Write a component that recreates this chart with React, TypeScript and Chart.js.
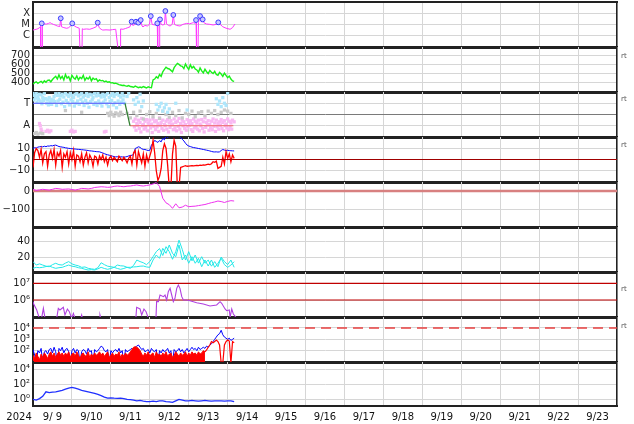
import React, { useEffect, useRef } from 'react';
import { Chart, registerables } from 'chart.js';

Chart.register(...registerables);
Chart.defaults.font.family = "'DejaVu Sans', sans-serif";
Chart.defaults.font.size = 10;
Chart.defaults.color = '#222';

// ---------------- time axis: hours since 2024-09-09 00:00 ----------------
const X_MIN = 0;
const X_MAX = 360;
const dayGridHours = [0, 24, 48, 72, 96, 120, 144, 168, 192, 216, 240, 264, 288, 312, 336, 360];
const dayLabelHours = [12, 36, 60, 84, 108, 132, 156, 180, 204, 228, 252, 276, 300, 324, 348];
const dayLabels = ['9/ 9', '9/10', '9/11', '9/12', '9/13', '9/14', '9/15', '9/16', '9/17', '9/18', '9/19', '9/20', '9/21', '9/22', '9/23'];
const yearLabel = '2024';
const yearLabelHour = -8.6;

// ---------------- panel 1: X-ray flux (log10 W/m2) ----------------
const xrayT = [0, 1, 2, 3, 4, 4.6, 4.8, 5.6, 5.8, 7, 8.4, 9.5, 10.5, 11.5, 12.5, 13.6, 15, 16.5, 17.1, 17.6, 19, 20.8, 22, 23.5, 24.2, 25.5, 27, 28.5, 29, 30.2, 30.4, 31, 33, 35, 37, 39, 39.9, 40.8, 42, 43, 45, 47.5, 49, 51, 52.6, 53.8, 54, 55.5, 57, 58.5, 59.8, 60.8, 61.5, 62.5, 63.5, 64.2, 64.9, 65.6, 66.4, 67.2, 67.8, 69, 70.5, 71.8, 72.6, 73.4, 75, 76.2, 76.6, 76.9, 77.8, 78.1, 78.3, 79, 80, 81.1, 81.6, 82.3, 83.5, 84.5, 85.8, 86.5, 87.2, 88.5, 90.6, 92.5, 94.8, 96.5, 98.8, 100, 100.5, 100.8, 101.7, 102, 103, 103.8, 104.6, 105.3, 107, 109, 111, 113, 114.2, 115, 117, 119, 121.5, 123, 124.5];
const xrayV = [-5.52, -5.48, -5.45, -5.40, -5.30, -5.2, -7.5, -7.5, -4.91, -4.97, -4.97, -4.92, -4.85, -4.93, -5.0, -5.06, -5.15, -5.2, -4.45, -5.22, -5.3, -5.36, -5.3, -5.1, -4.91, -5.15, -5.27, -5.35, -7.5, -7.5, -5.4, -5.45, -5.42, -5.45, -5.35, -5.22, -4.85, -5.3, -5.45, -5.52, -5.5, -5.52, -5.48, -5.45, -7.5, -7.5, -5.42, -5.45, -5.38, -5.3, -5.22, -4.76, -5.1, -5.05, -4.76, -5.0, -4.85, -5.0, -4.61, -5.15, -5.22, -5.1, -5.15, -5.0, -4.25, -5.0, -5.06, -5.0, -4.91, -7.5, -7.5, -5.0, -4.55, -5.0, -5.06, -5.0, -3.79, -4.95, -5.1, -5.15, -5.0, -4.15, -5.0, -5.1, -5.15, -5.0, -4.91, -4.95, -4.85, -4.9, -4.61, -7.5, -7.5, -4.85, -4.25, -4.8, -4.55, -4.85, -4.97, -5.0, -5.06, -5.0, -4.82, -4.95, -5.22, -5.35, -5.45, -5.3, -4.97];
const flareT = [5.4, 17.1, 24.2, 39.9, 60.8, 63.5, 64.9, 66.4, 72.6, 76.6, 78.3, 81.6, 86.5, 100.5, 103, 104.6, 114.2];
const flareV = [-4.91, -4.45, -4.91, -4.85, -4.76, -4.76, -4.85, -4.61, -4.25, -4.91, -4.55, -3.79, -4.15, -4.61, -4.25, -4.55, -4.82];
const xrayTicks = [-6, -5, -4];
const xrayTickLabels = ['C', 'M', 'X'];

// ---------------- panel 2: solar wind speed (km/s), hourly ----------------
const speed = [
  385, 400, 410, 392, 405, 415, 398, 420, 405, 425,
  430, 410, 435, 455, 470, 440, 485, 445, 470, 430,
  490, 450, 465, 420, 480, 455, 440, 475, 430, 460,
  445, 480, 425, 455, 440, 465, 420, 450, 435, 445,
  415, 430, 420, 425, 410, 418, 405, 410, 398, 400,
  392, 395, 388, 378, 375, 370, 372, 365, 362, 368,
  358, 355, 350, 362, 355, 345, 352, 346, 358, 350,
  342, 355, 348, 345, 430, 440, 465, 450, 490, 470,
  520, 545, 570, 555, 550, 535, 520, 565, 590, 612,
  600, 585, 580, 555, 605, 570, 545, 595, 560, 578,
  550, 540, 515, 562, 530, 508, 548, 520, 500, 535,
  515, 500, 525, 490, 480, 512, 495, 470, 505, 480,
  455, 472, 440, 420, 415,
];
const speedTicks = [400, 500, 600, 700];

// ---------------- panel 3: IMF sector (T = +1 / A = -1) ----------------
const awayT = [0, 56.7];
const awayV = [1, 1];
const transT = [56.7, 59.8];
const transV = [1, -1];
const towardT = [59.8, 123.5];
const towardV = [-1, -1];
const lbUp = [1.85, 1.7, 1.9, 1.6, 1.8, 1.75, 1.5, 1.85, 1.4, 1.3, 1.5, 1.35, 1.2, 1.6, 1.85, 1.7, 1.9, 1.65, 1.8, 1.55, 1.9, 1.75, 1.6, 1.85, 1.7, 1.5, 1.8, 1.9, 1.65, 1.75, 1.85, 1.55, 1.7, 1.9, 1.6, 1.8, 1.75, 1.5, 1.85, 1.65, 1.9, 1.7, 1.55, 1.8, 1.6, 1.75, 1.9, 1.5, 1.7, 1.85, 1.6, 1.8, 1.9, 1.7, 1.55, 1.85, 1.65];
const lbLow = [1.3, 1.45, 1.1, 1.35, 1.2, 0.95, 1.25, 1.4, 1.0, 0.85, 1.1, 0.9, 1.3, 1.15, 0.8, 1.2, 1.35, 0.95, 1.1, 0.7, 1.25, 1.05, 0.85, 1.3, 1.15, 0.75, 1.0, 1.2, 0.9, 1.35, 1.1, 0.8, 1.25, 1.0, 0.65, 1.15, 1.3, 0.9, 1.05, 0.8, 1.2, 1.0, 0.75, 1.1, 1.3, 0.95, 0.7, 1.15, 1.25, 0.85, 1.05, 0.6, 1.2, 0.9, 1.1, 1.3, 1.0];
const lbSparseT = [58, 59, 62, 63, 64, 65, 66, 67, 68, 76, 77, 78, 79, 80, 81, 82, 83, 84, 88, 95, 113, 114, 115, 116, 117, 118, 119, 120];
const lbSparseV = [1.6, 1.9, 1.3, 0.9, 1.5, 1.1, 1.8, 0.7, 1.2, 0.9, 0.4, 0.7, 1.0, 0.3, 0.6, 0.9, 0.2, 0.5, 1.0, 0.4, 1.4, 0.9, 1.2, 0.7, 1.5, 1.0, 0.8, 1.9];
const grayT = [1, 2, 3, 4.5, 6, 20, 30, 46, 47, 48, 49, 50, 51, 52, 53, 54, 55, 58, 60, 62, 64, 66, 68, 70, 72, 74, 76, 78, 80, 82, 84, 86, 88, 90, 92, 94, 96, 98, 100, 102, 104, 106, 108, 110, 112, 114, 116, 118, 120, 122];
const grayV = [-1.7, -1.6, -1.75, -1.65, -1.7, 0.35, 0.2, 0.1, -0.1, 0.2, 0.0, -0.15, 0.15, 0.05, -0.1, 0.2, 0.0, 0.1, -0.3, 0.2, -0.1, 0.3, -0.4, 0.0, 0.25, -0.2, 0.1, -0.35, 0.3, 0.0, -0.25, 0.2, -0.1, 0.35, -0.3, 0.1, 0.0, 0.3, -0.2, 0.15, 0.25, -0.1, 0.3, 0.1, 0.35, 0.0, 0.2, 0.4, 0.3, 0.1];
const pinkEarlyT = [4, 4.5, 5, 5.5, 8, 9, 10, 11, 23, 24, 25, 26, 44, 45];
const pinkEarlyV = [-0.8, -1.0, -1.3, -1.5, -1.5, -1.4, -1.55, -1.45, -1.5, -1.4, -1.55, -1.5, -1.55, -1.5];
const pinkUp = [-0.6, -0.4, -0.8, -0.5, -0.7, -0.35, -0.9, -0.6, -0.45, -0.75, -0.5, -0.85, -0.4, -0.65, -0.55, -0.8, -0.3, -0.7, -0.5, -0.9, -0.6, -0.45, -0.75, -0.55, -0.85, -0.4, -0.7, -0.6, -0.35, -0.8, -0.5, -0.65, -0.9, -0.45, -0.7, -0.55, -0.8, -0.4, -0.6, -0.75, -0.5, -0.85, -0.45, -0.65, -0.3, -0.7, -0.55, -0.9, -0.6, -0.4, -0.75, -0.5, -0.8, -0.65, -0.45, -0.7, -0.55, -0.85, -0.4, -0.6, -0.75, -0.5, -0.65];
const pinkLow = [-1.1, -1.4, -0.95, -1.25, -1.55, -1.0, -1.3, -1.15, -1.45, -0.9, -1.2, -1.6, -1.05, -1.35, -1.1, -1.5, -0.95, -1.25, -1.4, -1.0, -1.3, -1.55, -1.15, -0.9, -1.35, -1.2, -1.45, -1.05, -1.3, -1.6, -1.0, -1.25, -1.4, -1.1, -0.95, -1.35, -1.5, -1.2, -1.05, -1.3, -1.45, -1.0, -1.25, -1.55, -1.15, -0.9, -1.4, -1.2, -1.35, -1.05, -1.5, -1.1, -1.3, -0.95, -1.25, -1.45, -1.0, -1.2, -1.35, -1.1, -1.3];
const sectorTicks = [-1, 0, 1];
const sectorTickLabels = ['A', '', 'T'];

// ---------------- panel 4: IMF Bt (blue) / Bz (red), nT, hourly ----------------
const bt = [
  9.8, 10.5, 10.2, 11, 11.3, 11.5, 11.2, 11.8, 11.4, 12.0,
  11.9, 12.3, 12.1, 12.6, 12.8, 12.2, 11.5, 11.3, 11.0, 10.8,
  10.4, 10.2, 9.9, 9.8, 9.6, 9.4, 9.3, 9.1, 9.0, 8.9,
  8.7, 8.6, 8.4, 8.2, 8.0, 7.7, 7.6, 7.4, 7.2, 7.0,
  6.9, 6.8, 6.3, 5.8, 5.2, 4.6, 4.2, 3.8, 3.4, 3.0,
  2.6, 2.3, 2.5, 2.2, 2.4, 2.3, 2.1, 2.3, 2.6, 3.2,
  3.5, 3.8, 4.5, 9.8, 10.5, 11.3, 10.8, 9.5, 9.0, 8.9,
  8.4, 8.0, 8.2, 12.8, 14.5, 17.0, 16.0, 15.2, 16.8, 15.7,
  18.8, 17.5, 21, 19.5, 23, 23, 22, 23, 23, 23,
  22, 19.5, 18.0, 16.5, 14.5, 12.8, 12.0, 11.5, 11.0, 10.6,
  10.4, 10.1, 9.8, 9.5, 9.2, 8.9, 8.6, 8.3, 8.0, 7.6,
  7.2, 6.8, 6.7, 6.8, 6.6, 6.8, 8.0, 8.9, 8.4, 8.0,
  8.2, 7.9, 7.8, 7.7, 7.6,
];
const bz = [
  -7, 6, 9.8, 8, 2, 9, -3, 5, 7, -6,
  4, 8, 1, 9, -5, 6, 3, 8, -7, 5,
  2, 7, -4, 6, 0, 8, -6, 4, 3, -2,
  5, -5, 2, 6, -3, 4, 1, -6, 3, 2,
  -4, 3, 0, 4, -2, 2, -5, 1, 3, -1,
  2, 0, -2, 3, 1, -1, 2, 0, -3, 1,
  3, -4, 6, 8, -5, 7, 2, -3, 5, -6,
  4, -2, 3, 8, 17, 6, -10, -18.5, -15, -8,
  8, 14, 10, -5, -25, -25, 5, 17, 12, -25,
  -25, -7, -6.5, -6, -5.5, -6, -5.8, -5.6, -5.5, -5.7,
  -5.4, -5.2, -5.5, -5, -5.2, -4.8, -5, -4.6, -4.2, -4.5,
  -3.8, -2, -2.5, -1.5, -8, -7, -6, 2, -4, 7,
  1, 5, -2, 4, 1,
];
const imfTicks = [-10, 0, 10];
const imfTickLabels = ['\u221210', '0', '10'];
const imfZero = 0;

// ---------------- panel 5: Dst (nT), 2-hourly ----------------
const dst = [9, 3, 6, 9, 7, 5, 9, 14, 12, 9, 10, 11, 8, 5, 9, 14, 13, 11, 14, 19, 21, 23, 22, 20, 21, 25, 27, 25, 23, 26, 27, 30, 33, 29, 27, 30, 33, 38, 46, 25, -40, -65, -75, -95, -70, -92, -88, -78, -86, -84, -83, -80, -77, -74, -69, -64, -60, -55, -58, -63, -57, -53, -55];
const dstTicks = [-100, 0];
const dstTickLabels = ['\u2212100', '0'];
const dstZero = 0;

// ---------------- panel 6: two cyan traces, 2-hourly ----------------
const cyanA = [14, 9.5, 11, 9.5, 8, 7.3, 10, 11.8, 10, 9.5, 12, 14, 11, 9.5, 8.5, 6.5, 7, 5.2, 4.5, 3.9, 6, 12.5, 10, 8, 7.3, 6.5, 9.5, 8.5, 8.2, 6.5, 5.2, 9, 16, 14, 12.5, 10, 14, 20.4, 27, 31, 22, 33.5, 27, 17, 27, 42, 30, 16, 27, 15, 22.6, 12, 20.4, 11.8, 16, 8, 14, 7.3, 20, 14, 10, 16, 6.5];
const cyanB = [5.2, 6.5, 6, 6.5, 7.5, 8.2, 6.5, 5.2, 6, 6.5, 8, 9.5, 8, 7.3, 6, 5.2, 4, 3.0, 3.5, 3.0, 4.5, 6.5, 5, 3.9, 5, 6.5, 5, 3.9, 5, 6.5, 6.5, 7, 7.3, 8, 8.2, 7, 6.5, 16.1, 22.6, 18.3, 31.3, 24.8, 35.7, 24.8, 20.4, 35.7, 16.1, 22.6, 11.8, 20.4, 11.8, 18.3, 7.3, 16.1, 8.2, 16.1, 6.5, 11.8, 18.3, 10, 6.5, 9.5, 13.9];
const cyanTicks = [20, 40];

// ---------------- panel 7: purple (log10) ----------------
const purpleT = [0, 0.2, 2.3, 3.9, 5.3, 6.4, 7.4, 14.6, 15.6, 16.6, 18.7, 19.7, 21.2, 22.4, 23.8, 24.9, 25.9, 29.5, 30, 30.5, 40.8, 41.3, 41.8, 63.4, 63.9, 66, 67, 68.4, 69.7, 71.1, 75.8, 76.2, 77.3, 78.3, 80.4, 81.4, 82.4, 83.4, 84.5, 85.5, 86.5, 87.5, 88.6, 89.6, 90.6, 91.7, 92.7, 94.7, 96.8, 100.9, 105, 109.1, 113.2, 115.3, 116.3, 118.4, 119.4, 121, 121.5, 122.5, 123.5, 125.6];
const purpleV = [5.9, 5.8, 5.4, 4.9, 4.9, 5.5, 4.9, 4.9, 5.5, 5.4, 5.56, 5.1, 5.46, 5.3, 4.9, 5.2, 4.9, 4.9, 5.1, 4.9, 4.9, 5.1, 4.9, 4.9, 5.56, 5.46, 5.1, 5.46, 5.3, 4.9, 4.9, 5.9, 5.9, 6.3, 6.2, 6.3, 6.0, 6.5, 6.7, 6.3, 5.9, 6.1, 6.7, 6.9, 6.7, 6.2, 6.0, 6.0, 5.96, 5.84, 5.76, 5.64, 5.7, 5.9, 5.8, 5.46, 5.36, 5.4, 4.95, 5.46, 5.16, 4.9];
const purpleTicks = [6, 7];
const purpleTickLabels = ['10\u2076', '10\u2077'];
const purpleLevels = [7, 6];

// ---------------- panel 8: protons (log10), hourly ----------------
const protonBlue = [
  2.1, 1.6, 0.9, 2.0, 1.8, 2.2, 0.9, 1.9, 2.0, 1.7,
  2.1, 2.2, 1.8, 2.3, 1.9, 0.9, 2.2, 2.0, 2.3, 1.8,
  2.1, 2.2, 1.9, 0.9, 2.0, 2.2, 1.8, 2.1, 2.0, 0.9,
  1.9, 2.1, 2.0, 1.7, 2.2, 1.9, 2.0, 0.9, 2.1, 1.9,
  2.0, 2.2, 2.4, 2.3, 2.0, 1.9, 2.1, 0.9, 2.0, 1.8,
  2.0, 2.1, 1.9, 2.2, 1.8, 2.0, 0.9, 2.1, 1.9, 2.0,
  2.1, 2.2, 2.0, 2.3, 2.4, 2.5, 2.3, 2.1, 2.2, 1.9,
  2.0, 2.1, 1.8, 2.2, 2.0, 1.9, 2.1, 0.9, 2.0, 1.8,
  2.1, 1.9, 2.0, 2.2, 1.8, 2.0, 0.9, 2.1, 1.9, 2.0,
  2.2, 1.9, 2.1, 1.8, 2.0, 2.2, 1.9, 2.1, 2.3, 2.1,
  2.2, 2.0, 2.3, 2.1, 2.2, 2.3, 2.2, 2.4, 2.3, 2.5,
  2.6, 2.8, 3.0, 3.2, 3.4, 3.5, 3.8, 3.4, 3.2, 3.1,
  3.0, 3.1, 2.9, 3.0, 3.1,
];
const protonRedDense = [
  1.6, 1.3, 1.8, 1.5, 1.2, 1.7, 1.4, 1.8, 1.6, 1.3,
  1.7, 1.9, 1.5, 1.8, 1.4, 1.7, 1.9, 1.6, 1.8, 1.5,
  1.8, 1.6, 1.9, 1.4, 1.7, 1.8, 1.5, 1.9, 1.6, 1.3,
  1.7, 1.8, 1.5, 1.6, 1.9, 1.4, 1.7, 1.5, 1.8, 1.6,
  1.7, 1.9, 1.6, 1.8, 1.5, 1.7, 1.9, 1.4, 1.6, 1.8,
  1.5, 1.7, 1.6, 1.9, 1.4, 1.7, 1.5, 1.8, 1.6, 1.7,
  1.9, 2.1, 2.3, 2.35, 2.3, 2.2, 2.0, 1.7, 1.5, 1.8,
  1.6, 1.9, 1.5, 1.7, 1.8, 1.4, 1.9, 1.6, 1.7, 1.5,
  1.8, 1.6, 1.9, 1.5, 1.7, 1.8, 1.4, 1.6, 1.9, 1.7,
  1.5, 1.8, 1.6, 1.7, 1.9, 1.5, 1.8, 1.6, 1.9, 1.7,
  1.8, 1.6, 1.9, 1.7, 1.8, 2.0, 1.9,
];
const protonRedLate = [1.9, 2.06, 2.3, 2.5, 2.8, 2.7, 2.8, 2.94, 2.8, 2.5, 0.9, 0.9, 2.5, 2.8, 2.94, 2.85, 0.9, 2.8, 2.7];
const protonTicks = [2, 3, 4];
const protonTickLabels = ['10\u00b2', '10\u00b3', '10\u2074'];
const protonAlert = 4;

// ---------------- panel 9: electrons (log10), 2-hourly ----------------
const electrons = [0.0, -0.1, 0.1, 0.4, 1.0, 0.9, 0.95, 1.0, 1.1, 1.2, 1.35, 1.5, 1.6, 1.48, 1.35, 1.2, 1.1, 1.0, 0.9, 0.78, 0.65, 0.5, 0.3, 0.15, 0.2, 0.15, 0.12, 0.15, 0.1, 0.0, -0.05, -0.1, -0.2, -0.15, -0.25, -0.3, -0.3, -0.25, -0.3, -0.2, -0.2, -0.3, -0.35, -0.4, -0.2, 0.0, -0.1, -0.2, -0.2, -0.15, -0.2, -0.25, -0.2, -0.15, -0.2, -0.25, -0.2, -0.22, -0.2, -0.25, -0.2, -0.2, -0.3];
const electronTicks = [0, 2, 4];
const electronTickLabels = ['10\u2070', '10\u00b2', '10\u2074'];

// right-side small notes
const rtText = 'rt';
const rtRows = [57, 100, 146, 290, 327];

// ---------------- helpers ----------------
const seq = (start: number, step: number, vals: number[]) => vals.map((y, i) => ({ x: start + i * step, y }));
const pairs = (ts: number[], vs: number[]) => ts.map((t, i) => ({ x: t, y: vs[i] })).filter((p) => p.y !== undefined);
const GRID = '#d6d6d6';

const ln = (data: any[], color: string, width = 1, extra: any = {}) => ({
  data, borderColor: color, backgroundColor: color, borderWidth: width, pointRadius: 0,
  fill: false, tension: 0, xAxisID: 'x', yAxisID: 'y', ...extra,
});
const dots = (data: any[], color: string, r = 2.3) => ({
  data, showLine: false, pointRadius: r, pointStyle: 'rect', pointBorderWidth: 0,
  pointBackgroundColor: color, borderColor: color, backgroundColor: color, xAxisID: 'x', yAxisID: 'y',
});
const hline = (value: number, color: string, width: number, extra: any = {}) =>
  ln([{ x: X_MIN, y: value }, { x: X_MAX, y: value }], color, width, extra);

const PANEL_TOPS = [2, 47, 92, 137, 182, 227, 272, 317, 362, 406];

const PANELS: any[] = [
  {
    min: -7.06, max: -2.97, ticks: xrayTicks, labels: xrayTickLabels,
    datasets: [
      { data: pairs(flareT, flareV), showLine: false, pointRadius: 2.4, pointStyle: 'circle', pointBorderWidth: 1,
        pointBorderColor: '#3a3aff', pointBackgroundColor: '#c8c8ff', xAxisID: 'x', yAxisID: 'y' },
      ln(pairs(xrayT, xrayV), '#ff38ff', 1),
    ],
  },
  {
    min: 298, max: 791, ticks: speedTicks, labels: speedTicks.map(String),
    datasets: [ln(seq(0, 1, speed), '#1af01a', 1.4)],
  },
  {
    min: -2, max: 2, ticks: sectorTicks, labels: sectorTickLabels,
    gridColor: (v: number) => (v === 0 ? '#7a7a7a' : GRID),
    datasets: [
      ln(pairs(awayT, awayV), '#5050ff', 1.2),
      ln(pairs(transT, transV), '#308030', 1.2),
      ln(pairs(towardT, towardV), '#f06060', 1.2),
      dots(seq(0, 1, lbUp), '#aee6fb'),
      dots(seq(0.5, 1, lbLow), '#aee6fb'),
      dots(pairs(lbSparseT, lbSparseV), '#aee6fb'),
      dots(pairs(grayT, grayV), '#c9c9c9'),
      dots(pairs(pinkEarlyT, pinkEarlyV), '#f9b8f2'),
      dots(seq(62, 1, pinkUp), '#f9b8f2'),
      dots(seq(62.5, 1, pinkLow), '#f9b8f2'),
    ],
  },
  {
    min: -20, max: 20, ticks: imfTicks, labels: imfTickLabels,
    datasets: [
      hline(imfZero, '#a00000', 1.2),
      ln(seq(0, 1, bz), '#ff0000', 1.3),
      ln(seq(0, 1, bt), '#0000ff', 1),
    ],
  },
  {
    min: -197, max: 49, ticks: dstTicks, labels: dstTickLabels,
    datasets: [
      ln(seq(0, 2, dst), '#ee30ee', 1),
      hline(dstZero, '#d88080', 2.5),
    ],
  },
  {
    min: 0.4, max: 59.2, ticks: cyanTicks, labels: cyanTicks.map(String),
    datasets: [
      ln(seq(0, 2, cyanA), '#22e8e8', 1),
      ln(seq(0, 2, cyanB), '#22e8e8', 1),
    ],
  },
  {
    min: 4.98, max: 7.68, ticks: purpleTicks, labels: purpleTickLabels,
    datasets: [
      ln(pairs(purpleT, purpleV), '#b040e0', 1.1),
      hline(purpleLevels[0], '#c00000', 1.2),
      hline(purpleLevels[1], '#c00000', 1.2),
    ],
  },
  {
    min: 1.0, max: 4.97, ticks: protonTicks, labels: protonTickLabels,
    datasets: [
      hline(protonAlert, '#e84040', 1.5, { borderDash: [10, 6] }),
      ln(seq(106, 1, protonRedLate), '#ff0000', 1.2),
      ln(seq(0, 1, protonRedDense), '#ff0000', 1, { fill: 'start', backgroundColor: '#ff0000' }),
      ln(seq(0, 1, protonBlue), '#0000ff', 1),
    ],
  },
  {
    min: -0.89, max: 4.97, ticks: electronTicks, labels: electronTickLabels,
    datasets: [ln(seq(0, 2, electrons), '#2030ff', 1.3)],
  },
];

const MARGIN = 14;
const X_AXIS_H = 18;

function canvasBox(i: number) {
  const last = i === PANELS.length - 1;
  const top = PANEL_TOPS[i] - MARGIN;
  const height = last ? 424 - top : PANEL_TOPS[i + 1] - PANEL_TOPS[i] + 2 * MARGIN;
  return { top, height, last };
}

function buildConfig(p: any, i: number): any {
  const { last } = canvasBox(i);
  const first = i === 0;
  const xTickVals = last ? [yearLabelHour, ...dayGridHours, ...dayLabelHours].sort((a, b) => a - b) : dayGridHours;
  const scales: any = {
    x: {
      type: 'linear', position: 'bottom', min: X_MIN, max: X_MAX,
      afterBuildTicks: (s: any) => { s.ticks = xTickVals.map((v) => ({ value: v })); },
      afterFit: last ? (s: any) => { s.height = X_AXIS_H; } : undefined,
      grid: {
        drawTicks: false, lineWidth: 1,
        color: (ctx: any) => (ctx.tick && dayGridHours.includes(ctx.tick.value) ? GRID : 'rgba(0,0,0,0)'),
      },
      border: { display: true, color: '#222', width: last ? 2 : 3 },
      ticks: {
        display: last, autoSkip: false, maxRotation: 0, minRotation: 0, padding: 5, color: '#111',
        font: { size: 10 },
        callback: (v: number) => {
          const k = dayLabelHours.indexOf(v);
          if (k >= 0) return dayLabels[k];
          if (v === yearLabelHour) return yearLabel;
          return '';
        },
      },
    },
    y: {
      type: 'linear', position: 'left', min: p.min, max: p.max,
      afterBuildTicks: (s: any) => { s.ticks = p.ticks.map((v: number) => ({ value: v })); },
      afterFit: (s: any) => { s.width = 33; s.paddingTop = 0; s.paddingBottom = 0; },
      grid: {
        drawTicks: false, lineWidth: 1,
        color: (ctx: any) => (p.gridColor && ctx.tick ? p.gridColor(ctx.tick.value) : GRID),
      },
      border: { display: true, color: '#222', width: 2 },
      ticks: {
        autoSkip: false, padding: 3, color: '#222', font: { size: 10 },
        callback: (_v: number, idx: number) => p.labels[idx],
      },
    },
    yr: {
      type: 'linear', position: 'right', min: 0, max: 1,
      afterFit: (s: any) => { s.width = 17; },
      grid: { display: false, drawTicks: false },
      ticks: { display: false },
      border: { display: true, color: '#222', width: 1.5 },
    },
  };
  if (first) {
    scales.xt = {
      type: 'linear', position: 'top', min: X_MIN, max: X_MAX,
      grid: { display: false, drawTicks: false },
      ticks: { display: false },
      border: { display: true, color: '#222', width: 2 },
    };
  }
  return {
    type: 'line',
    data: { datasets: p.datasets },
    options: {
      animation: false,
      responsive: false,
      maintainAspectRatio: false,
      events: [],
      layout: { padding: { top: MARGIN, bottom: last ? 0 : MARGIN, left: 0, right: 0 } },
      plugins: { legend: { display: false }, tooltip: { enabled: false } },
      scales,
    },
  };
}

export default function App() {
  const refs = useRef<(HTMLCanvasElement | null)[]>([]);
  useEffect(() => {
    const charts = PANELS.map((p, i) => new Chart(refs.current[i] as HTMLCanvasElement, buildConfig(p, i)));
    return () => charts.forEach((c) => c.destroy());
  }, []);
  return (
    <div style={{ position: 'fixed', left: 0, top: 0, width: 634, height: 424, background: '#fff', overflow: 'hidden' }}>
      {PANELS.map((_p, i) => {
        const { top, height } = canvasBox(i);
        return (
          <canvas
            key={i}
            ref={(el) => { refs.current[i] = el; }}
            width={634}
            height={height}
            style={{ position: 'absolute', left: 0, top, width: 634, height }}
          />
        );
      })}
      {rtRows.map((y, i) => (
        <span
          key={'rt' + i}
          style={{ position: 'absolute', left: 621, top: y - 5, fontSize: 7, lineHeight: '9px', color: '#555', fontFamily: "'DejaVu Sans', sans-serif" }}
        >
          {rtText}
        </span>
      ))}
    </div>
  );
}
